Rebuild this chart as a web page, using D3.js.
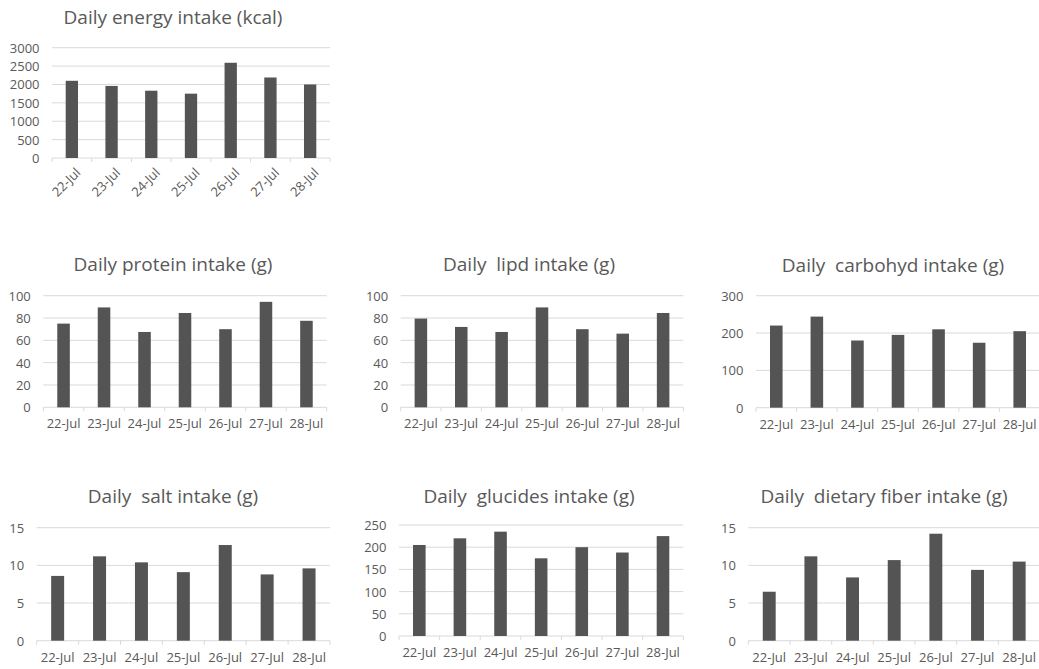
<!DOCTYPE html>
<html>
<head>
<meta charset="utf-8">
<script src="https://cdn.jsdelivr.net/npm/d3@7"></script>
<style>
  html, body { margin: 0; padding: 0; background: #ffffff; }
  svg { display: block; }
  text { font-family: "Open Sans", "Noto Sans", sans-serif; }
</style>
</head>
<body>
<svg id="chart" width="1039" height="669"></svg>
<script>
// ---- data ----
const dates = ["22-Jul", "23-Jul", "24-Jul", "25-Jul", "26-Jul", "27-Jul", "28-Jul"];
const energy   = [2100, 1960, 1830, 1750, 2590, 2190, 2000];
const protein  = [75, 89.5, 67.5, 84.5, 70, 94.5, 77.5];
const lipid    = [79.5, 72, 67.5, 89.5, 70, 66, 84.5];
const carbohyd = [220, 244, 180, 195, 210, 174, 205];
const salt     = [8.6, 11.2, 10.4, 9.1, 12.7, 8.8, 9.6];
const glucides = [205, 220, 235, 175, 200, 188, 225];
const fiber    = [6.5, 11.2, 8.4, 10.7, 14.2, 9.4, 10.5];

const titles = [
  "Daily energy intake (kcal)",
  "Daily protein intake (g)",
  "Daily  lipd intake (g)",
  "Daily  carbohyd intake (g)",
  "Daily  salt intake (g)",
  "Daily  glucides intake (g)",
  "Daily  dietary fiber intake (g)"
];
const yMax  = [3000, 100, 100, 300, 15, 250, 15];
const yStep = [500, 20, 20, 100, 5, 50, 5];
const series = [energy, protein, lipid, carbohyd, salt, glucides, fiber];

// ---- layout (positions only) ----
const layout = [
  { x0: 52,    x1: 330,  y0: 47.7,  y1: 158,   tx: 173, ty: 23.5, rotate: true },
  { x0: 43.3,  x1: 326.7, y0: 295.7, y1: 407.3, tx: 173, ty: 271, rotate: false },
  { x0: 400.7, x1: 683.3, y0: 295.7, y1: 407.3, tx: 529, ty: 271, rotate: false },
  { x0: 756,   x1: 1040,  y0: 295.7, y1: 407.7, tx: 893, ty: 272, rotate: false },
  { x0: 36.7,  x1: 330,   y0: 527.7, y1: 640.7, tx: 173, ty: 503, rotate: false },
  { x0: 399,   x1: 683.3, y0: 525,   y1: 636,   tx: 529, ty: 503, rotate: false },
  { x0: 748.4, x1: 1040,  y0: 527.7, y1: 640.7, tx: 884, ty: 503, rotate: false }
];

const svg = d3.select("#chart");
const textColor = "#595959";
const gridColor = "#d9d9d9";
const barColor = "#545454";

series.forEach((vals, i) => {
  const L = layout[i];
  const g = svg.append("g");
  const x = d3.scaleBand().domain(dates).range([L.x0, L.x1])
    .paddingInner(0.69).paddingOuter(0.345);
  const y = d3.scaleLinear().domain([0, yMax[i]]).range([L.y1, L.y0]);
  const ticks = d3.range(0, yMax[i] + yStep[i] / 2, yStep[i]);

  // gridlines
  g.selectAll("line.grid").data(ticks).join("line")
    .attr("x1", L.x0).attr("x2", L.x1)
    .attr("y1", d => y(d)).attr("y2", d => y(d))
    .attr("stroke", gridColor).attr("stroke-width", 1);

  // category boundary tick marks under axis
  const step = x.step();
  const bounds = d3.range(0, dates.length + 1).map(k => L.x0 + k * step);
  g.selectAll("line.ctick").data(bounds).join("line")
    .attr("x1", d => d).attr("x2", d => d)
    .attr("y1", y(0)).attr("y2", y(0) + 4)
    .attr("stroke", gridColor).attr("stroke-width", 1);

  // y tick labels
  g.selectAll("text.ytick").data(ticks).join("text")
    .attr("x", L.x0 - 12.5).attr("y", d => y(d))
    .attr("text-anchor", "end").attr("dominant-baseline", "central")
    .attr("font-size", 13).attr("fill", textColor)
    .text(d => d3.format("d")(d));

  // bars
  g.selectAll("rect.bar").data(vals).join("rect")
    .attr("x", (d, k) => x(dates[k]))
    .attr("width", x.bandwidth())
    .attr("y", d => y(d))
    .attr("height", d => y(0) - y(d))
    .attr("fill", barColor);

  // x labels
  if (L.rotate) {
    g.selectAll("text.xl").data(dates).join("text")
      .attr("transform", d => `translate(${x(d) + x.bandwidth() / 2 + 6},${y(0) + 12}) rotate(-45)`)
      .attr("text-anchor", "end").attr("dominant-baseline", "central")
      .attr("font-size", 13).attr("fill", textColor)
      .text(d => d);
  } else {
    g.selectAll("text.xl").data(dates).join("text")
      .attr("x", d => x(d) + x.bandwidth() / 2)
      .attr("y", y(0) + 21)
      .attr("text-anchor", "middle")
      .attr("font-size", 13).attr("fill", textColor)
      .text(d => d);
  }

  // title
  g.append("text")
    .attr("x", L.tx).attr("y", L.ty)
    .attr("text-anchor", "middle")
    .attr("font-size", 19).attr("fill", textColor)
    .attr("xml:space", "preserve")
    .style("white-space", "pre")
    .text(titles[i]);
});
</script>
</body>
</html>
